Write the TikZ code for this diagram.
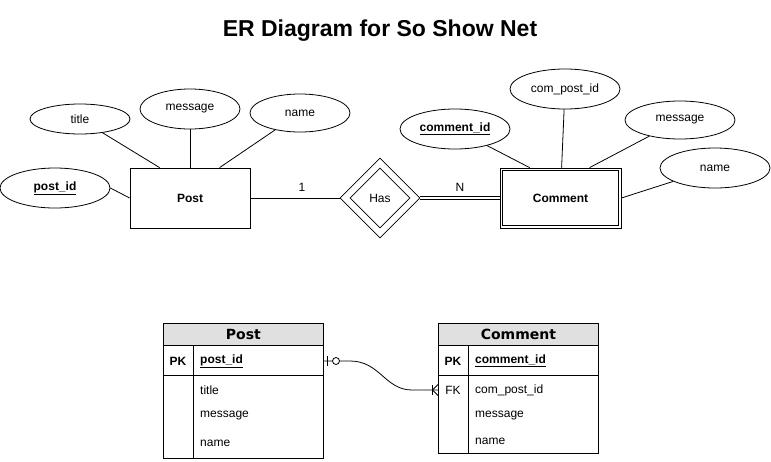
\documentclass[tikz,border=0pt]{standalone}
\usepackage{fontspec}
\setmainfont{Liberation Sans}
\newfontfamily\hdrfont{DejaVu Sans}
\usetikzlibrary{shapes.geometric,calc}
\definecolor{hdrgray}{HTML}{E0E0E0}
\tikzset{
  attr/.style={ellipse, draw, line width=0.8pt, inner sep=0pt, minimum width=110pt, minimum height=40pt, font=\fontsize{12}{14}\selectfont},
  ent/.style={rectangle, draw, line width=0.8pt, minimum width=120pt, minimum height=60pt, inner sep=0pt, font=\bfseries\fontsize{12}{14}\selectfont},
  conn/.style={line width=0.8pt},
  lbl/.style={inner sep=0pt, font=\fontsize{12}{14}\selectfont},
  tbox/.style={draw, line width=0.8pt, minimum width=160pt, inner sep=0pt, anchor=north west},
  thdr/.style={tbox, fill=hdrgray, minimum height=22pt, font=\hdrfont\bfseries\fontsize{14}{16}\selectfont},
  tcell/.style={inner sep=0pt, anchor=west, font=\fontsize{12}{14}\selectfont},
  tkey/.style={inner sep=0pt, font=\bfseries\fontsize{12}{14}\selectfont}
}
\begin{document}
\begin{tikzpicture}[x=1pt, y=-1pt]
\useasboundingbox (0,0) rectangle (771,461);
% title
\node[inner sep=0pt, font=\bfseries\fontsize{23}{26}\selectfont] (ttl) at (380,31) {ER Diagram for So Show Net};

% ---------- ER part ----------
\node[ent] (Post) at (190,198) {Post};
\node[attr, minimum width=100pt, minimum height=30pt] (atitle) at (80,119) {title};
\node[attr, minimum width=100pt, minimum height=40pt] (amsg) at (190,109) {message};
\node[attr, minimum width=100pt, minimum height=38pt] (aname) at (300,113) {name};
\node[attr, font=\bfseries\fontsize{12}{14}\selectfont] (apid) at (55,188) {\underline{post\_id}};

\draw[conn] (atitle) -- ($(Post.north west)+(30,0)$);
\draw[conn] (amsg) -- (Post.north);
\draw[conn] (aname) -- ($(Post.north west)+(90,0)$);
\draw[conn] (apid.east) -- (Post.west);

\node[diamond, draw, line width=0.8pt, minimum width=80pt, minimum height=80pt, inner sep=0pt] (HasO) at (380,198) {};
\node[diamond, draw, line width=0.8pt, minimum width=60pt, minimum height=60pt, inner sep=0pt, font=\fontsize{12}{14}\selectfont] (Has) at (380,198) {Has};

\node[ent, minimum width=121pt, minimum height=60pt] (Comment) at (560.5,198) {Comment};
\draw[conn] ($(Comment.north west)+(3,3)$) rectangle ($(Comment.south east)+(-3,-3)$);

\draw[conn] (Post.east) -- (HasO.west);
\node[lbl] (one) at (302,187) {1};
\draw[line width=0.8pt, double, double distance=2pt] (HasO.east) -- (Comment.west);
\node[lbl] (nn) at (460,187) {N};

\node[attr, font=\bfseries\fontsize{12}{14}\selectfont] (acid) at (455,129) {\underline{comment\_id}};
\node[attr] (acpid) at (565,89) {com\_post\_id};
\node[attr, minimum height=38pt] (amsg2) at (680,120) {message};
\node[attr] (aname2) at (715,168) {name};

\draw[conn] (acid) -- ($(Comment.north west)+(30,0)$);
\draw[conn] (acpid) -- ($(Comment.north west)+(62,0)$);
\draw[conn] (amsg2) -- ($(Comment.north west)+(90,0)$);
\draw[conn] (aname2) -- (Comment.east);

% ---------- tables ----------
% Post table
\node[thdr] (pH) at (163,323) {Post};
\node[tbox, minimum height=30pt] (pPK) at (163,345) {};
\node[tbox, minimum height=83pt] (pBody) at (163,375) {};
\draw[conn] (193,345) -- (193,458);
\node[tkey] (pPKl) at (178,361) {PK};
\node[tcell, font=\bfseries\fontsize{12}{14}\selectfont] (pPKn) at (200,361) {\underline{post\_id}};
\node[tcell] (pT) at (200,390) {title};
\node[tcell] (pM) at (200,416) {message};
\node[tcell] (pN) at (200,443) {name};

% Comment table
\node[thdr] (cH) at (438,323) {Comment};
\node[tbox, minimum height=30pt] (cPK) at (438,345) {};
\node[tbox, minimum height=78pt] (cBody) at (438,375) {};
\draw[conn] (468,345) -- (468,453);
\node[tkey] (cPKl) at (453,361) {PK};
\node[tcell, font=\bfseries\fontsize{12}{14}\selectfont] (cPKn) at (475,361) {\underline{comment\_id}};
\node[lbl] (cFKl) at (453,390) {FK};
\node[tcell] (cF) at (475,390) {com\_post\_id};
\node[tcell] (cM) at (475,416) {message};
\node[tcell] (cN) at (475,441) {name};

% relationship connector
\coordinate (rA) at (323,361);
\coordinate (rB) at (438,390);
\draw[conn] (rA) -- (350,361) .. controls (380,361) and (385,390) .. (412,390) -- (rB);
\draw[conn] (327,356) -- (327,366);
\draw[conn, fill=white] (336,361) circle (3.5pt);
\draw[conn] (432,385) -- (432,395);
\draw[conn] (438,384.5) -- (432.5,390) -- (438,395.5);
\end{tikzpicture}
\end{document}
